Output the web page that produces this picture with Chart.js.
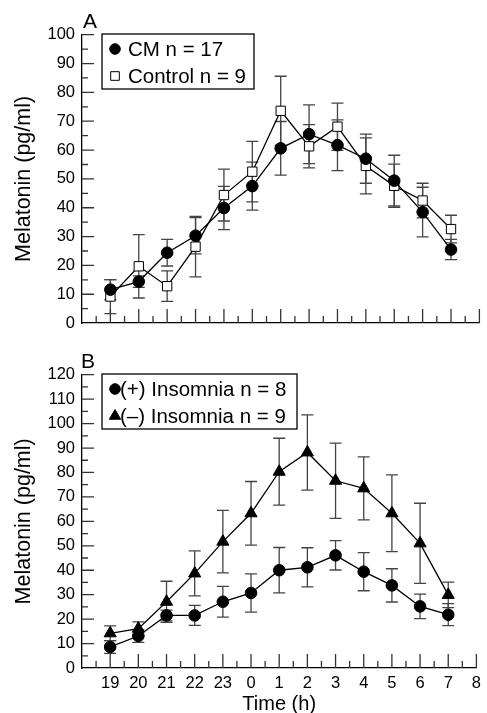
<!DOCTYPE html>
<html>
<head>
<meta charset="utf-8">
<script src="https://cdn.jsdelivr.net/npm/chart.js@4.4.1/dist/chart.umd.min.js"></script>
<style>
body { margin: 0; background: #fff; }
#wrap { position: relative; width: 487px; height: 713px; }
canvas { position: absolute; left: 0; }
</style>
</head>
<body>
<div id="wrap">
  <canvas id="chartA" width="487" height="340" style="top:0"></canvas>
  <canvas id="chartB" width="487" height="373" style="top:340px"></canvas>
</div>
<script>
// time points, hours (19:00 -> 08:00)
const timeLabels = ['19', '20', '21', '22', '23', '0', '1', '2', '3', '4', '5', '6', '7', '8'];

// panel A
const cmMean      = [11.6, 14.4, 24.4, 30.3, 39.9, 47.5, 60.6, 65.5, 61.7, 57.0, 49.4, 38.5, 25.5];
const cmErr       = [3.5, 2.0, 4.6, 6.3, 7.5, 8.3, 9.3, 10.2, 8.8, 8.5, 8.8, 8.6, 3.5];
const controlMean = [9.2, 19.7, 12.8, 26.5, 44.4, 52.5, 73.6, 61.3, 68.1, 54.5, 47.6, 42.5, 32.6];
const controlErr  = [5.9, 11.0, 5.3, 10.5, 9.0, 10.5, 12.0, 7.5, 8.2, 9.7, 7.5, 6.0, 4.8];

// panel B
const insomPlusMean  = [8.6, 13.1, 21.5, 21.5, 27.1, 30.7, 40.0, 41.2, 46.1, 39.4, 33.8, 25.2, 21.8];
const insomPlusErr   = [2.6, 2.6, 2.2, 4.1, 6.3, 7.8, 9.3, 8.0, 6.0, 7.8, 6.8, 5.0, 4.5];
const insomMinusMean = [14.2, 16.1, 27.1, 38.7, 51.7, 63.3, 80.3, 88.2, 76.6, 73.5, 63.3, 51.0, 29.9];
const insomMinusErr  = [3.0, 2.8, 8.4, 9.2, 12.8, 13.0, 13.7, 15.4, 15.4, 12.9, 15.7, 16.4, 5.2];

const FONT = 'Liberation Sans, Arial, Helvetica, sans-serif';

function pts(arr) {
  return arr.map((v, i) => ({ x: i + 1, y: v }));
}

// vertical SEM bars, under the lines
const errorBars = {
  id: 'errorBars',
  beforeDatasetsDraw(chart) {
    const ctx = chart.ctx, xs = chart.scales.x, ys = chart.scales.y;
    ctx.save();
    ctx.strokeStyle = '#444';
    ctx.lineWidth = 1.3;
    chart.data.datasets.forEach(ds => {
      ds.data.forEach((p, i) => {
        const e = ds.errors[i];
        const px = xs.getPixelForValue(p.x);
        const t = ys.getPixelForValue(p.y + e);
        const b = ys.getPixelForValue(p.y - e);
        ctx.beginPath();
        ctx.moveTo(px, t); ctx.lineTo(px, b);
        ctx.moveTo(px - 6, t); ctx.lineTo(px + 6, t);
        ctx.moveTo(px - 6, b); ctx.lineTo(px + 6, b);
        ctx.stroke();
      });
    });
    ctx.restore();
  }
};

// inward tick marks, majors + half-step minors
const innerTicks = {
  id: 'innerTicks',
  afterDraw(chart) {
    const ctx = chart.ctx, xs = chart.scales.x, ys = chart.scales.y;
    const area = chart.chartArea;
    ctx.save();
    ctx.strokeStyle = '#333';
    ctx.lineWidth = 1.3;
    ctx.beginPath();
    for (let v = 5; v <= ys.max; v += 5) {
      const py = ys.getPixelForValue(v);
      const len = v % 10 === 0 ? 12 : 6;
      ctx.moveTo(area.left, py); ctx.lineTo(area.left + len, py);
    }
    for (let v = 0.5; v <= xs.max; v += 0.5) {
      const px = xs.getPixelForValue(v);
      const len = Number.isInteger(v) ? 14 : 7;
      ctx.moveTo(px, area.bottom); ctx.lineTo(px, area.bottom - len);
    }
    ctx.stroke();
    ctx.restore();
  }
};

// boxed legend in the top-left corner + panel letter
const boxLegend = {
  id: 'boxLegend',
  afterDraw(chart, args, opts) {
    const ctx = chart.ctx;
    ctx.save();
    ctx.fillStyle = '#000';
    ctx.font = '21px ' + FONT;
    ctx.textBaseline = 'middle';
    ctx.textAlign = 'center';
    ctx.fillText(opts.letter, opts.letterX, opts.letterY);

    const b = opts.box;
    ctx.fillStyle = '#fff';
    ctx.fillRect(b.x, b.y, b.w, b.h);
    ctx.strokeStyle = '#000';
    ctx.lineWidth = 1.3;
    ctx.strokeRect(b.x, b.y, b.w, b.h);

    ctx.font = '20.5px ' + FONT;
    ctx.textAlign = 'left';
    chart.data.datasets.forEach((ds, i) => {
      const y = b.y + opts.rows[i];
      ctx.fillStyle = ds.pointBackgroundColor;
      ctx.strokeStyle = '#000';
      ctx.lineWidth = 1;
      Chart.helpers.drawPoint(ctx, {
        pointStyle: ds.pointStyle, radius: ds.pointRadius - 0.5, rotation: 0, borderWidth: 1
      }, b.x + 13, y);
      ctx.fillStyle = '#000';
      ctx.fillText(ds.label, b.x + opts.textX, y + 1);
    });
    ctx.restore();
  }
};

function lineSet(label, mean, err, style, fill, radius) {
  return {
    label: label,
    data: pts(mean),
    errors: err,
    borderColor: '#000',
    borderWidth: 1.3,
    pointStyle: style,
    pointRadius: radius,
    pointBackgroundColor: fill,
    pointBorderColor: '#000',
    pointBorderWidth: 1,
    tension: 0
  };
}

function makeChart(id, datasets, yMax, xHeight, showX, legendOpts) {
  return new Chart(document.getElementById(id), {
    type: 'line',
    data: { datasets: datasets },
    options: {
      responsive: false,
      animation: false,
      layout: { padding: { top: 34.7, right: 5.3, left: 0, bottom: 0 } },
      plugins: {
        legend: { display: false },
        tooltip: { enabled: false },
        boxLegend: legendOpts
      },
      scales: {
        x: {
          type: 'linear',
          min: 0,
          max: 14,
          grid: { display: false, tickLength: 0 },
          border: { display: true, color: '#000', width: 1.3 },
          ticks: {
            display: showX,
            stepSize: 1,
            autoSkip: false,
            maxRotation: 0,
            padding: 6,
            color: '#000',
            font: { family: FONT, size: 16.5 },
            callback: v => (v >= 1 ? timeLabels[v - 1] : '')
          },
          title: {
            display: showX,
            text: 'Time (h)',
            color: '#000',
            font: { family: FONT, size: 20 },
            padding: { top: 0, bottom: -3 }
          },
          afterFit: s => { s.height = xHeight; }
        },
        y: {
          min: 0,
          max: yMax,
          grid: { display: false, tickLength: 0 },
          border: { display: true, color: '#000', width: 1.3 },
          ticks: {
            stepSize: 10,
            padding: 7,
            color: '#000',
            font: { family: FONT, size: 16.5 }
          },
          title: {
            display: true,
            text: 'Melatonin (pg/ml)',
            color: '#000',
            font: { family: FONT, size: 21.5 },
            padding: { top: 11, bottom: 0 }
          },
          afterFit: s => { s.width = 82; }
        }
      }
    },
    plugins: [errorBars, innerTicks, boxLegend]
  });
}

makeChart('chartA', [
  lineSet('CM n = 17', cmMean, cmErr, 'circle', '#000', 5.8),
  lineSet('Control n = 9', controlMean, controlErr, 'rect', '#fff', 6.6)
], 100, 12.5, false, {
  letter: 'A', letterX: 90, letterY: 22,
  box: { x: 102, y: 34, w: 152, h: 55 },
  rows: [15, 42], textX: 26
});

makeChart('chartB', [
  lineSet('(+) Insomnia n = 8', insomPlusMean, insomPlusErr, 'circle', '#000', 5.8),
  lineSet('(\u2013) Insomnia n = 9', insomMinusMean, insomMinusErr, 'triangle', '#000', 7)
], 120, 45, true, {
  letter: 'B', letterX: 88, letterY: 22,
  box: { x: 102, y: 34, w: 195, h: 55 },
  rows: [15, 42], textX: 18
});
</script>
</body>
</html>
